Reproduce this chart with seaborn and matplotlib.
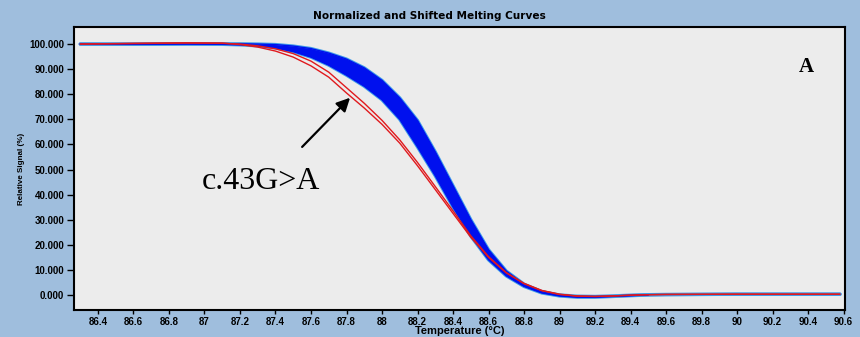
import matplotlib
matplotlib.use("Agg")
import matplotlib.pyplot as plt
import pandas as pd
import seaborn as sns

# Temperature grid (°C) shared by every melting curve
temp = [86.30, 86.60, 86.90, 87.10, 87.20, 87.30, 87.40, 87.50, 87.60, 87.70,
        87.80, 87.90, 88.00, 88.10, 88.20, 88.30, 88.40, 88.50, 88.60, 88.70,
        88.80, 88.90, 89.00, 89.10, 89.20, 89.30, 89.40, 89.50, 89.60, 90.00,
        90.58]

# Wild-type cluster: upper and lower envelope of the blue curves (%)
wt_high = [100.0, 100.0, 100.1, 100.1, 100.1, 100.0, 99.8, 99.2, 98.2, 96.4,
           94.0, 90.5, 85.5, 78.5, 69.5, 57.0, 43.5, 30.0, 18.0, 9.5,
           4.3, 1.3, 0.0, -0.5, -0.6, -0.4, -0.1, 0.1, 0.2, 0.3,
           0.3]
wt_low = [100.0, 99.9, 100.0, 99.9, 99.7, 99.3, 98.5, 97.0, 94.8, 91.6,
          87.6, 83.2, 77.8, 70.0, 59.0, 47.5, 35.0, 23.5, 14.0, 7.6,
          3.4, 0.8, -0.4, -0.9, -0.9, -0.6, -0.3, 0.0, 0.1, 0.3,
          0.3]

# c.43G>A heterozygous samples (%)
mut_1 = [100.0, 100.3, 100.5, 100.4, 99.8, 98.8, 97.2, 94.8, 91.3, 86.8,
         80.5, 74.5, 68.0, 60.5, 51.5, 42.0, 32.5, 23.0, 15.0, 8.8,
         4.6, 1.8, 0.3, -0.4, -0.6, -0.4, -0.1, 0.1, 0.2, 0.3,
         0.3]
mut_2 = [100.0, 100.2, 100.4, 100.3, 100.0, 99.3, 98.1, 96.2, 93.2, 88.8,
         82.6, 76.4, 69.6, 61.8, 52.8, 43.2, 33.5, 23.6, 15.3, 8.9,
         4.5, 1.7, 0.2, -0.5, -0.6, -0.4, -0.1, 0.1, 0.2, 0.3,
         0.3]

x_ticks = [86.4, 86.6, 86.8, 87.0, 87.2, 87.4, 87.6, 87.8, 88.0, 88.2, 88.4,
           88.6, 88.8, 89.0, 89.2, 89.4, 89.6, 89.8, 90.0, 90.2, 90.4, 90.6]
y_ticks = [0, 10, 20, 30, 40, 50, 60, 70, 80, 90, 100]

curves = pd.DataFrame({"temp": temp, "wt_high": wt_high, "wt_low": wt_low,
                       "mut_1": mut_1, "mut_2": mut_2})
# the dark wild-type bundle stops where the flat baseline begins
band = curves[curves["temp"] <= 89.5]

sns.set_theme(style="white")
plt.rcParams["font.family"] = ["Liberation Sans", "DejaVu Sans"]
plt.rcParams.update({"text.color": "black", "axes.labelcolor": "black",
                     "xtick.color": "black", "ytick.color": "black"})

fig = plt.figure(figsize=(8.6, 3.37), dpi=100, facecolor="#9fbedd")
ax = fig.add_axes([74 / 860, 1 - 310 / 337, (845 - 74) / 860, (310 - 27) / 337])
ax.set_facecolor("#ececec")

light_blue = "#3d9be9"
dark_blue = "#0010ee"
red = "#e01a1e"

# light-blue outer traces of the wild-type group
for col in ["wt_high", "wt_low"]:
    sns.lineplot(data=curves, x="temp", y=col, ax=ax, color=light_blue,
                 linewidth=2.4, estimator=None, sort=False, zorder=2)

# dense blue bundle of wild-type curves
ax.fill_between(band["temp"], band["wt_low"], band["wt_high"],
                color=dark_blue, linewidth=0, zorder=3)
for col in ["wt_high", "wt_low"]:
    sns.lineplot(data=band, x="temp", y=col, ax=ax, color=dark_blue,
                 linewidth=1.0, estimator=None, sort=False, zorder=3)

# mutant curves on top
for col in ["mut_1", "mut_2"]:
    sns.lineplot(data=curves, x="temp", y=col, ax=ax, color=red,
                 linewidth=1.0, estimator=None, sort=False, zorder=4)

ax.set_xlim(86.265, 90.608)
ax.set_ylim(-6.0, 106.8)

ax.set_xticks(x_ticks)
ax.set_xticklabels([f"{v:g}" for v in x_ticks], fontweight="bold", fontsize=7)
ax.set_yticks(y_ticks)
ax.set_yticklabels([f"{v:.3f}" for v in y_ticks], fontweight="bold", fontsize=7)
ax.tick_params(axis="x", direction="out", length=3, width=1, color="black",
               pad=2, bottom=True)
ax.tick_params(axis="y", direction="out", length=5, width=1, color="black",
               pad=2, left=True)

for side in ["left", "bottom", "top", "right"]:
    ax.spines[side].set_visible(True)
    ax.spines[side].set_color("black")
    ax.spines[side].set_linewidth(1.5)

ax.set_xlabel("Temperature (°C)", fontsize=8, fontweight="bold", labelpad=-1)
ax.set_ylabel("Relative Signal (%)", fontsize=5.8, fontweight="bold", labelpad=3)

fig.text(429 / 860, 1 - 16 / 337, "Normalized and Shifted Melting Curves",
         ha="center", va="center", fontsize=7.6, fontweight="bold",
         family="DejaVu Sans")

ax.text(90.39, 90.8, "A", ha="center", va="center", fontsize=15,
        fontweight="bold", family="Liberation Serif")
ax.text(87.32, 45.4, "c.43G>A", ha="center", va="center", fontsize=23,
        family="Liberation Serif")
ax.annotate("", xy=(87.82, 78.6), xytext=(87.55, 59.0),
            arrowprops=dict(arrowstyle="-|>", color="black", lw=1.6,
                            mutation_scale=20, shrinkA=0, shrinkB=0),
            zorder=5)

fig.savefig("out.png", dpi=100, facecolor=fig.get_facecolor())
